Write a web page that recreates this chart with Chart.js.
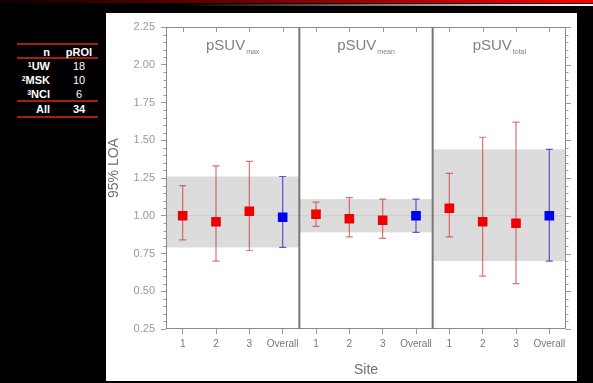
<!DOCTYPE html>
<html>
<head>
<meta charset="utf-8">
<script src="https://cdn.jsdelivr.net/npm/chart.js@4/dist/chart.umd.min.js"></script>
<style>
  html,body{margin:0;padding:0;background:#000;}
  body{width:593px;height:383px;overflow:hidden;position:relative;font-family:"Liberation Sans",Arial,sans-serif;}
  #topbar{position:absolute;left:0;top:0;width:593px;height:3px;background:linear-gradient(to right,#100000 0%,#7a0000 45%,#ff0000 100%);}
  #topline{position:absolute;left:0;top:4px;width:593px;height:2px;background:linear-gradient(to right,#000 0%,#000 30%,#fff 100%);}
  #panel{position:absolute;left:106px;top:13px;width:471px;height:368px;background:#fff;}
  #panel canvas{position:absolute;left:0;top:0;}
  .hl{position:absolute;left:17px;width:81px;height:2px;background:#a3200f;}
  .c1{position:absolute;right:543px;color:#fff;font-size:11px;font-weight:bold;line-height:12px;white-space:nowrap;text-align:right;}
  .c2{position:absolute;left:64px;width:30px;color:#fff;font-size:11px;line-height:12px;text-align:center;}
  .b{font-weight:bold;}
  sup{font-size:7px;vertical-align:top;position:relative;top:-1px;}
</style>
</head>
<body>
<div id="topbar"></div>
<div id="topline"></div>
<div id="table"></div>
<div id="panel"><canvas id="c" width="471" height="368"></canvas></div>
<script>
// ---------- data ----------
const categories = ['1','2','3','Overall','1','2','3','Overall','1','2','3','Overall'];
const siteMean  = [1.00, 0.96, 1.03, null, 1.01, 0.98, 0.97, null, 1.05, 0.96, 0.95, null];
const siteUpper = [1.20, 1.33, 1.36, null, 1.09, 1.12, 1.11, null, 1.28, 1.52, 1.62, null];
const siteLower = [0.84, 0.70, 0.77, null, 0.93, 0.86, 0.85, null, 0.86, 0.60, 0.55, null];
const overallMean  = [null, null, null, 0.99, null, null, null, 1.00, null, null, null, 1.00];
const overallUpper = [null, null, null, 1.26, null, null, null, 1.11, null, null, null, 1.44];
const overallLower = [null, null, null, 0.79, null, null, null, 0.89, null, null, null, 0.70];
const panelMain = ['pSUV','pSUV','pSUV'];
const panelSub  = ['max','mean','total'];
const yTicks = [0.25,0.50,0.75,1.00,1.25,1.50,1.75,2.00,2.25];
const tableHead = ['n','pROI'];
const tableSup = ['1','2','3'];
const tableSites = ['UW','MSK','NCI'];
const tableN = [18,10,6];
const tableAllLabel = 'All';
const tableAll = 34;

// ---------- table ----------
(function(){
  const t = document.getElementById('table');
  let h = '';
  [43,57,100,116].forEach(y=>{ h += `<div class="hl" style="top:${y}px"></div>`; });
  const rowsY = [46,60,74,88,103];
  h += `<div class="c1" style="top:${rowsY[0]}px">${tableHead[0]}</div><div class="c2 b" style="top:${rowsY[0]}px">${tableHead[1]}</div>`;
  for(let i=0;i<tableSites.length;i++){
    h += `<div class="c1" style="top:${rowsY[i+1]}px"><sup>${tableSup[i]}</sup>${tableSites[i]}</div><div class="c2" style="top:${rowsY[i+1]}px">${tableN[i]}</div>`;
  }
  h += `<div class="c1" style="top:${rowsY[4]}px">${tableAllLabel}</div><div class="c2 b" style="top:${rowsY[4]}px">${tableAll}</div>`;
  t.innerHTML = h;
})();

// ---------- plugin ----------
const decor = {
  id:'decor',
  beforeDatasetsDraw(chart){
    const {ctx, chartArea:a, scales:{x,y}} = chart;
    const half = (x.getPixelForValue(1)-x.getPixelForValue(0))/2;
    ctx.save();
    for(let p=0;p<3;p++){
      const i = p*4+3;
      const x0 = x.getPixelForValue(p*4)-half, x1 = x.getPixelForValue(p*4+3)+half;
      const yt = y.getPixelForValue(overallUpper[i]), yb = y.getPixelForValue(overallLower[i]);
      ctx.fillStyle = '#dcdcdc';
      ctx.fillRect(x0, yt, x1-x0, yb-yt);
      ctx.strokeStyle = 'rgba(190,205,190,0.8)';
      ctx.lineWidth = 1;
      const y1 = y.getPixelForValue(1.0);
      ctx.beginPath(); ctx.moveTo(x0,y1); ctx.lineTo(x1,y1); ctx.stroke();
    }
    function bars(mean, up, lo, color){
      ctx.strokeStyle = color; ctx.lineWidth = 1.2;
      for(let i=0;i<mean.length;i++){
        if(mean[i]==null) continue;
        const px = x.getPixelForValue(i);
        const pu = y.getPixelForValue(up[i]), pl = y.getPixelForValue(lo[i]);
        ctx.beginPath();
        ctx.moveTo(px,pu); ctx.lineTo(px,pl);
        ctx.moveTo(px-3.5,pu); ctx.lineTo(px+3.5,pu);
        ctx.moveTo(px-3.5,pl); ctx.lineTo(px+3.5,pl);
        ctx.stroke();
      }
    }
    bars(siteMean, siteUpper, siteLower, 'rgba(205,40,40,0.65)');
    bars(overallMean, overallUpper, overallLower, 'rgba(40,40,190,0.75)');
    ctx.restore();
  },
  afterDraw(chart){
    const {ctx, chartArea:a, scales:{x,y}} = chart;
    const half = (x.getPixelForValue(1)-x.getPixelForValue(0))/2;
    ctx.save();
    // frame
    ctx.strokeStyle = '#8a8a8a'; ctx.lineWidth = 1;
    ctx.strokeRect(a.left+0.5, a.top+0.5, a.right-a.left-1, a.bottom-a.top-1);
    // dividers
    ctx.strokeStyle = '#777'; ctx.lineWidth = 2;
    for(let p=1;p<3;p++){
      const xd = x.getPixelForValue(p*4)-half;
      ctx.beginPath(); ctx.moveTo(xd,a.top); ctx.lineTo(xd,a.bottom); ctx.stroke();
    }
    // top ticks (inside)
    ctx.strokeStyle = '#999'; ctx.lineWidth = 1;
    for(let i=0;i<categories.length;i++){
      const px = Math.round(x.getPixelForValue(i))+0.5;
      ctx.beginPath(); ctx.moveTo(px,a.top); ctx.lineTo(px,a.top+5); ctx.stroke();
    }
    // minor ticks left & right, major right
    for(let v=25; v<=225; v+=5){
      const py = Math.round(y.getPixelForValue(v/100))+0.5;
      const major = v%25===0;
      const L = major?5:2.5;
      ctx.beginPath();
      if(!major){ ctx.moveTo(a.left-L,py); ctx.lineTo(a.left,py); }
      ctx.moveTo(a.right,py); ctx.lineTo(a.right+L,py);
      ctx.stroke();
    }
    // panel titles
    ctx.fillStyle = '#808080';
    ctx.textBaseline = 'alphabetic';
    for(let p=0;p<3;p++){
      const cx = (x.getPixelForValue(p*4+1)+x.getPixelForValue(p*4+2))/2;
      ctx.font = '15px "Liberation Sans", Arial, sans-serif';
      const w1 = ctx.measureText(panelMain[p]).width;
      ctx.font = '7px "Liberation Sans", Arial, sans-serif';
      const w2 = ctx.measureText(panelSub[p]).width;
      const sx = cx - (w1+w2+1)/2;
      ctx.font = '15px "Liberation Sans", Arial, sans-serif';
      ctx.textAlign = 'left';
      ctx.fillText(panelMain[p], sx, a.top+23);
      ctx.font = '7px "Liberation Sans", Arial, sans-serif';
      ctx.fillText(panelSub[p], sx+w1+1, a.top+27);
    }
    // axis titles
    ctx.fillStyle = '#707070';
    ctx.font = '14px "Liberation Sans", Arial, sans-serif';
    ctx.textAlign = 'center'; ctx.textBaseline = 'middle';
    ctx.fillText('Site', (a.left+a.right)/2, 357);
    ctx.translate(8, 155);
    ctx.rotate(-Math.PI/2);
    ctx.fillText('95% LOA', 0, 0);
    ctx.restore();
  }
};

new Chart(document.getElementById('c'), {
  type: 'line',
  data: {
    labels: categories,
    datasets: [
      {data: siteMean, showLine:false, pointStyle:'rect', pointRadius:6.8, pointHoverRadius:6.8,
       backgroundColor:'#ee0000', borderColor:'#ee0000', borderWidth:0},
      {data: overallMean, showLine:false, pointStyle:'rect', pointRadius:6.8, pointHoverRadius:6.8,
       backgroundColor:'#0000ee', borderColor:'#0000ee', borderWidth:0}
    ]
  },
  options: {
    responsive:false, animation:false,
    layout:{padding:{top:14,right:11,left:0,bottom:0}},
    plugins:{legend:{display:false}, tooltip:{enabled:false}},
    scales:{
      x:{
        type:'category', offset:true,
        afterFit(s){ s.height = 52; },
        grid:{display:true, drawOnChartArea:false, drawTicks:true, tickLength:5, color:'#999', offset:false},
        border:{display:false},
        ticks:{color:'#777', font:{size:10, family:'"Liberation Sans", Arial, sans-serif'}, padding:4, maxRotation:0, autoSkip:false}
      },
      y:{
        min:0.25, max:2.25,
        afterFit(s){ s.width = 60; },
        afterBuildTicks(s){ s.ticks = yTicks.map(v=>({value:v})); },
        grid:{display:true, drawOnChartArea:false, drawTicks:true, tickLength:5, color:'#999'},
        border:{display:false},
        ticks:{color:'#999', font:{size:11, family:'"Liberation Sans", Arial, sans-serif'}, padding:6,
               callback:v=>Number(v).toFixed(2)}
      }
    }
  },
  plugins:[decor]
});
</script>
</body>
</html>
